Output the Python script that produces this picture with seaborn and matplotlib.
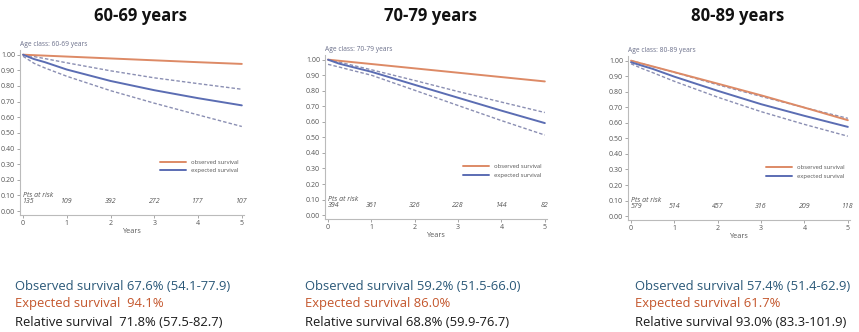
import numpy as np
import pandas as pd
import matplotlib
matplotlib.use("Agg")
import matplotlib.pyplot as plt
import seaborn as sns

sns.set_theme(style="white")
plt.rcParams["font.family"] = ["Open Sans", "DejaVu Sans"]

# ---- data -------------------------------------------------------------
years = [0, 0.25, 0.5, 1, 2, 3, 4, 5]
risk_years = [0, 1, 2, 3, 4, 5]

age_classes = ["60-69 years", "70-79 years", "80-89 years"]

# orange curve (legend: "observed survival")
orange_6069 = [1.00, 0.997, 0.994, 0.988, 0.976, 0.964, 0.952, 0.941]
orange_7079 = [1.00, 0.993, 0.986, 0.972, 0.944, 0.916, 0.888, 0.860]
orange_8089 = [1.00, 0.981, 0.963, 0.926, 0.852, 0.777, 0.698, 0.617]

# blue curve (legend: "expected survival") with confidence band
blue_6069 = [1.00, 0.972, 0.952, 0.905, 0.832, 0.773, 0.722, 0.676]
upper_6069 = [1.00, 0.988, 0.975, 0.948, 0.897, 0.852, 0.815, 0.779]
lower_6069 = [0.99, 0.945, 0.915, 0.862, 0.770, 0.690, 0.615, 0.541]

blue_7079 = [1.00, 0.975, 0.957, 0.922, 0.838, 0.755, 0.672, 0.592]
upper_7079 = [1.00, 0.985, 0.968, 0.935, 0.866, 0.795, 0.727, 0.660]
lower_7079 = [0.97, 0.953, 0.935, 0.900, 0.803, 0.705, 0.608, 0.515]

blue_8089 = [0.99, 0.968, 0.947, 0.897, 0.806, 0.720, 0.645, 0.574]
upper_8089 = [1.00, 0.982, 0.962, 0.925, 0.845, 0.770, 0.698, 0.629]
lower_8089 = [0.98, 0.950, 0.923, 0.867, 0.765, 0.672, 0.590, 0.514]

risk_6069 = ["135", "109", "392", "272", "177", "107"]
risk_7079 = ["394", "361", "326", "228", "144", "82"]
risk_8089 = ["579", "514", "457", "316", "209", "118"]

obs_text = ["Observed survival 67.6% (54.1-77.9)",
            "Observed survival 59.2% (51.5-66.0)",
            "Observed survival 57.4% (51.4-62.9)"]
exp_text = ["Expected survival  94.1%",
            "Expected survival 86.0%",
            "Expected survival 61.7%"]
rel_text = ["Relative survival  71.8% (57.5-82.7)",
            "Relative survival 68.8% (59.9-76.7)",
            "Relative survival 93.0% (83.3-101.9)"]

panels = [
    (orange_6069, blue_6069, upper_6069, lower_6069, risk_6069),
    (orange_7079, blue_7079, upper_7079, lower_7079, risk_7079),
    (orange_8089, blue_8089, upper_8089, lower_8089, risk_8089),
]

# ---- layout -----------------------------------------------------------
W, H = 859, 332
fig = plt.figure(figsize=(W / 100, H / 100), dpi=100)
fig.patch.set_facecolor("white")

# axes boxes in pixels: left, top, right, bottom
boxes = [(20, 50, 244, 215), (325, 55, 547, 219), (628, 56, 850, 220)]
title_x = [141, 430, 738]
text_x = [15, 305, 635]

ORANGE = "#dd8a66"
BLUE = "#5b6db3"
DASH = "#8b8fb3"
GREY = "#555555"

for i, (orng, blue, up, lo, risk) in enumerate(panels):
    l, t, r, b = boxes[i]
    ax = fig.add_axes([l / W, 1 - b / H, (r - l) / W, (b - t) / H])
    df = pd.DataFrame({"Years": years, "orange": orng, "blue": blue,
                       "upper": up, "lower": lo})
    sns.lineplot(data=df, x="Years", y="upper", ax=ax, color=DASH, lw=1.0,
                 linestyle=(0, (2.5, 1.5)))
    sns.lineplot(data=df, x="Years", y="lower", ax=ax, color=DASH, lw=1.0,
                 linestyle=(0, (2.5, 1.5)))
    sns.lineplot(data=df, x="Years", y="orange", ax=ax, color=ORANGE, lw=1.4,
                 label="observed survival")
    sns.lineplot(data=df, x="Years", y="blue", ax=ax, color=BLUE, lw=1.4,
                 label="expected survival")

    ax.set_xlim(-0.07, 5.05)
    ax.set_ylim(-0.025, 1.03)
    ax.set_xticks(risk_years)
    ax.set_yticks(np.arange(0, 1.01, 0.1))
    ax.set_yticklabels([f"{v:.2f}" for v in np.arange(0, 1.01, 0.1)])
    ax.tick_params(axis="both", labelsize=5, colors="#999999",
                   labelcolor=GREY, length=2, width=0.6, pad=1.5,
                   left=True, bottom=True)
    ax.set_xlabel("Years", fontsize=5.2, color=GREY, labelpad=1)
    ax.set_ylabel("")
    for s in ["top", "right"]:
        ax.spines[s].set_visible(False)
    for s in ["left", "bottom"]:
        ax.spines[s].set_color("#bbbbbb")
        ax.spines[s].set_linewidth(0.8)

    leg = ax.legend(loc="lower right", bbox_to_anchor=(1.0, 0.22),
                    fontsize=4.2, frameon=False, handlelength=4.5,
                    labelspacing=0.6, handletextpad=0.8)
    for txt in leg.get_texts():
        txt.set_color(GREY)

    ax.text(0.0, 1.01, f"Age class: {age_classes[i]}", transform=ax.transAxes,
            fontsize=4.8, color="#6a6f8a", ha="left", va="bottom")

    ax.text(0.0, 0.075, "Pts at risk", fontsize=5, style="italic",
            color=GREY, ha="left", va="bottom")
    for yr, n in zip(risk_years, risk):
        ax.text(yr + (0.12 if yr == 0 else 0), 0.06, n, fontsize=5,
                style="italic", color=GREY, ha="center", va="center")

    fig.text(title_x[i] / W, 1 - 16 / H, age_classes[i], fontsize=12,
             fontweight="bold", color="#111111", ha="center", va="center")

    fig.text(text_x[i] / W, 1 - 286 / H, obs_text[i], fontsize=9.4,
             color="#2a5878", ha="left", va="center")
    fig.text(text_x[i] / W, 1 - 304 / H, exp_text[i], fontsize=9.4,
             color="#c4562c", ha="left", va="center")
    fig.text(text_x[i] / W, 1 - 322 / H, rel_text[i], fontsize=9.4,
             color="#1a1a1a", ha="left", va="center")

fig.savefig("out.png", dpi=100, facecolor="white")
